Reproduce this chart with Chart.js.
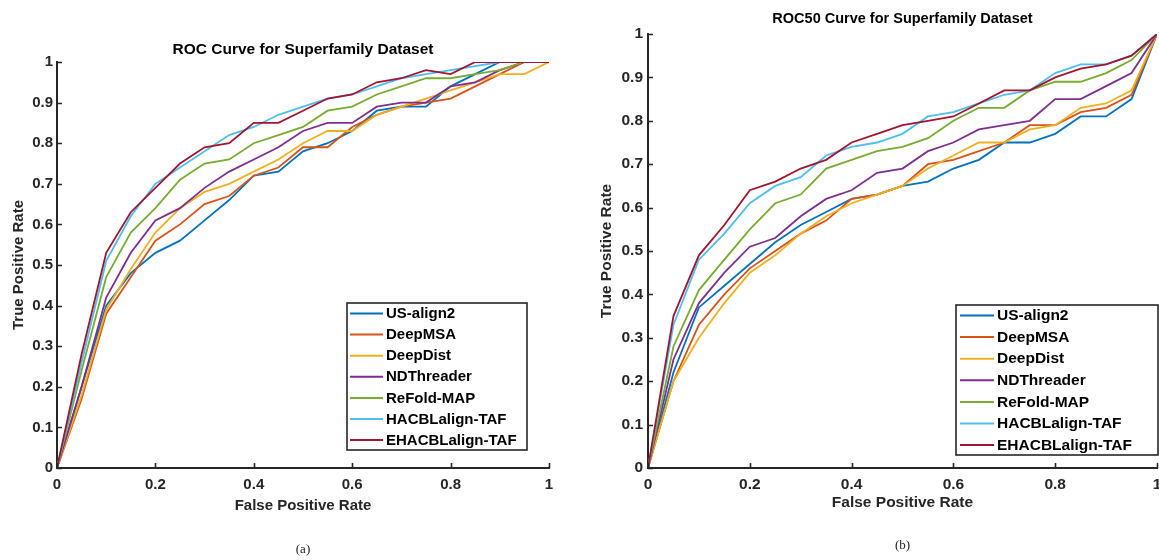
<!DOCTYPE html>
<html><head><meta charset="utf-8">
<script src="https://cdn.jsdelivr.net/npm/chart.js@4.4.1/dist/chart.umd.min.js"></script>
<style>
html,body{margin:0;padding:0;background:#fff;width:1159px;height:560px;overflow:hidden;position:relative;}
#wrapA{position:absolute;left:0;top:0;width:580px;height:560px;}
#wrapB{position:absolute;left:580px;top:0;width:590px;height:560px;}
canvas{display:block;}
</style></head><body>
<div id="wrapA"><canvas id="cA" width="580" height="560"></canvas></div>
<div id="wrapB"><canvas id="cB" width="590" height="560"></canvas></div>
<script>
// ---------- data ----------
const FPR = [0,0.05,0.1,0.15,0.2,0.25,0.3,0.35,0.4,0.45,0.5,0.55,0.6,0.65,0.7,0.75,0.8,0.85,0.9,0.95,1];
const SERIES = ['US-align2','DeepMSA','DeepDist','NDThreader','ReFold-MAP','HACBLalign-TAF','EHACBLalign-TAF'];
const X_TICKS = [0,0.2,0.4,0.6,0.8,1];
const Y_TICKS = [0,0.1,0.2,0.3,0.4,0.5,0.6,0.7,0.8,0.9,1];

// (a) ROC
const rocUSalign2  = [0,0.20,0.40,0.48,0.53,0.56,0.61,0.66,0.72,0.73,0.78,0.80,0.83,0.88,0.89,0.89,0.94,0.97,1.00,1.00,1.00];
const rocDeepMSA   = [0,0.17,0.38,0.47,0.56,0.60,0.65,0.67,0.72,0.74,0.79,0.79,0.84,0.87,0.89,0.90,0.91,0.94,0.97,1.00,1.00];
const rocDeepDist  = [0,0.18,0.39,0.49,0.58,0.64,0.68,0.70,0.73,0.76,0.80,0.83,0.83,0.87,0.89,0.91,0.93,0.95,0.97,0.97,1.00];
const rocNDThreader= [0,0.20,0.42,0.53,0.61,0.64,0.69,0.73,0.76,0.79,0.83,0.85,0.85,0.89,0.90,0.90,0.94,0.95,0.98,1.00,1.00];
const rocReFoldMAP = [0,0.24,0.47,0.58,0.64,0.71,0.75,0.76,0.80,0.82,0.84,0.88,0.89,0.92,0.94,0.96,0.96,0.97,0.98,1.00,1.00];
const rocHACBL     = [0,0.26,0.51,0.62,0.70,0.74,0.78,0.82,0.84,0.87,0.89,0.91,0.92,0.94,0.96,0.97,0.98,0.99,1.00,1.00,1.00];
const rocEHACBL    = [0,0.28,0.53,0.63,0.69,0.75,0.79,0.80,0.85,0.85,0.88,0.91,0.92,0.95,0.96,0.98,0.97,1.00,1.00,1.00,1.00];

// (b) ROC50
const r50USalign2  = [0,0.22,0.37,0.42,0.47,0.52,0.56,0.59,0.62,0.63,0.65,0.66,0.69,0.71,0.75,0.75,0.77,0.81,0.81,0.85,1.00];
const r50DeepMSA   = [0,0.20,0.33,0.40,0.46,0.50,0.54,0.57,0.62,0.63,0.65,0.70,0.71,0.73,0.75,0.79,0.79,0.82,0.83,0.86,1.00];
const r50DeepDist  = [0,0.20,0.30,0.38,0.45,0.49,0.54,0.58,0.61,0.63,0.65,0.69,0.72,0.75,0.75,0.78,0.79,0.83,0.84,0.87,1.00];
const r50NDThreader= [0,0.25,0.38,0.45,0.51,0.53,0.58,0.62,0.64,0.68,0.69,0.73,0.75,0.78,0.79,0.80,0.85,0.85,0.88,0.91,1.00];
const r50ReFoldMAP = [0,0.28,0.41,0.48,0.55,0.61,0.63,0.69,0.71,0.73,0.74,0.76,0.80,0.83,0.83,0.87,0.89,0.89,0.91,0.94,1.00];
const r50HACBL     = [0,0.33,0.48,0.54,0.61,0.65,0.67,0.72,0.74,0.75,0.77,0.81,0.82,0.84,0.86,0.87,0.91,0.93,0.93,0.95,1.00];
const r50EHACBL    = [0,0.35,0.49,0.56,0.64,0.66,0.69,0.71,0.75,0.77,0.79,0.80,0.81,0.84,0.87,0.87,0.90,0.92,0.93,0.95,1.00];

// ---------- styles ----------
const COLORS = ['#0072BD','#D95319','#EDB120','#7E2F8E','#77AC30','#4DBEEE','#A2142F'];
const SANS = '"Liberation Sans", Arial, Helvetica, sans-serif';
const SERIF = '"Liberation Serif", "Times New Roman", serif';
const AXIS_COLOR = '#262626';

const inwardTicks = {
  id: 'inwardTicks',
  afterDatasetsDraw(chart, args, opts) {
    const {ctx, chartArea: a, scales: {x, y}} = chart;
    ctx.save();
    ctx.strokeStyle = AXIS_COLOR;
    ctx.lineWidth = 1.6;
    ctx.beginPath();
    x.ticks.forEach(t => { const p = Math.round(x.getPixelForValue(t.value)) + 0.5; ctx.moveTo(p, a.bottom); ctx.lineTo(p, a.bottom - opts.len); });
    y.ticks.forEach(t => { const p = Math.round(y.getPixelForValue(t.value)) + 0.5; ctx.moveTo(a.left, p); ctx.lineTo(a.left + opts.len, p); });
    ctx.stroke();
    ctx.restore();
  }
};

const boxLegend = {
  id: 'boxLegend',
  afterDraw(chart, args, o) {
    const {ctx} = chart;
    ctx.save();
    ctx.fillStyle = '#fff';
    ctx.fillRect(o.x, o.y, o.w, o.h);
    ctx.strokeStyle = AXIS_COLOR;
    ctx.lineWidth = 1.6;
    ctx.strokeRect(o.x, o.y, o.w, o.h);
    ctx.font = 'bold ' + o.size + 'px ' + SANS;
    ctx.textBaseline = 'middle';
    ctx.textAlign = 'left';
    chart.data.datasets.forEach((ds, i) => {
      const yy = o.rowTop + i * o.rowStep;
      ctx.strokeStyle = ds.borderColor;
      ctx.lineWidth = 2;
      ctx.beginPath();
      ctx.moveTo(o.x + o.l0, yy); ctx.lineTo(o.x + o.l1, yy);
      ctx.stroke();
      ctx.fillStyle = '#000';
      ctx.fillText(ds.label, o.x + o.tx, yy + 0.5);
    });
    ctx.restore();
  }
};

function fmt(v) { return String(Number(v.toFixed(1))); }

function makeChart(id, values, g) {
  const datasets = SERIES.map((name, i) => ({
    label: name,
    data: FPR.map((fx, j) => ({x: fx, y: values[i][j]})),
    borderColor: COLORS[i],
    backgroundColor: COLORS[i],
    borderWidth: 1.8,
    pointRadius: 0,
    tension: 0,
    fill: false,
    order: SERIES.length - i
  }));
  const tickFont = {family: SANS, size: g.tick, weight: 'bold'};
  const labFont = {family: SANS, size: g.lab, weight: 'bold', lineHeight: 1.2};
  return new Chart(document.getElementById(id), {
    type: 'line',
    data: {datasets},
    plugins: [inwardTicks, boxLegend],
    options: {
      responsive: false,
      animation: false,
      events: [],
      layout: {padding: g.pad},
      plugins: {
        legend: {display: false},
        tooltip: {enabled: false},
        title: {display: true, text: g.title, fullSize: false, color: '#000',
          font: {family: SANS, size: g.ttl, weight: 'bold', lineHeight: 1.2},
          padding: {top: 0, bottom: g.titlePadB}},
        subtitle: {display: true, position: 'bottom', text: g.cap, fullSize: false, color: '#222',
          font: {family: SERIF, size: 13, weight: 'normal', lineHeight: 1.2},
          padding: {top: g.capPadT, bottom: 0}},
        inwardTicks: {len: 5},
        boxLegend: g.legend
      },
      scales: {
        x: {
          type: 'linear', min: 0, max: 1,
          afterBuildTicks: s => { s.ticks = X_TICKS.map(v => ({value: v})); },
          afterFit: s => { s.height = g.xH; },
          grid: {display: false, drawTicks: false},
          border: {display: true, color: AXIS_COLOR, width: 2},
          ticks: {padding: g.xTickPad, maxRotation: 0, autoSkip: false, color: AXIS_COLOR, font: tickFont, callback: v => fmt(v)},
          title: {display: true, text: 'False Positive Rate', color: AXIS_COLOR, font: labFont, padding: {top: 0, bottom: g.xTitlePadB}}
        },
        y: {
          type: 'linear', min: 0, max: 1,
          afterBuildTicks: s => { s.ticks = Y_TICKS.map(v => ({value: v})); },
          afterFit: s => { s.width = g.yW; },
          grid: {display: false, drawTicks: false},
          border: {display: true, color: AXIS_COLOR, width: 2},
          ticks: {padding: g.yTickPad, autoSkip: false, color: AXIS_COLOR, font: tickFont, callback: v => fmt(v)},
          title: {display: true, text: 'True Positive Rate', color: AXIS_COLOR, font: labFont, padding: {top: g.yTitlePadT, bottom: 0}}
        }
      }
    }
  });
}

makeChart('cA',
  [rocUSalign2, rocDeepMSA, rocDeepDist, rocNDThreader, rocReFoldMAP, rocHACBL, rocEHACBL],
  {
    title: 'ROC Curve for Superfamily Dataset', cap: '(a)',
    pad: {left: 0, right: 31, top: 40.5, bottom: 2.2},
    ttl: 15.5, tick: 15, lab: 15,
    titlePadB: 2.9, capPadT: 24.2,
    xH: 50, xTickPad: 8, xTitlePadB: 3,
    yW: 57, yTickPad: 4, yTitlePadT: 10,
    legend: {x: 347, y: 303, w: 180, h: 147, rowTop: 313.5, rowStep: 21.1, l0: 3, l1: 36, tx: 39, size: 15}
  });

makeChart('cB',
  [r50USalign2, r50DeepMSA, r50DeepDist, r50NDThreader, r50ReFoldMAP, r50HACBL, r50EHACBL],
  {
    title: 'ROC50 Curve for Superfamily Dataset', cap: '(b)',
    pad: {left: 0, right: 13, top: 10.7, bottom: 6.2},
    ttl: 14.5, tick: 15.5, lab: 15.5,
    titlePadB: 5.9, capPadT: 22.2,
    xH: 48, xTickPad: 7, xTitlePadB: 3.7,
    yW: 68, yTickPad: 5, yTitlePadT: 17.7,
    legend: {x: 376, y: 305, w: 202, h: 150, rowTop: 315.5, rowStep: 21.6, l0: 4, l1: 38, tx: 41, size: 15.5}
  });
</script>
</body></html>
